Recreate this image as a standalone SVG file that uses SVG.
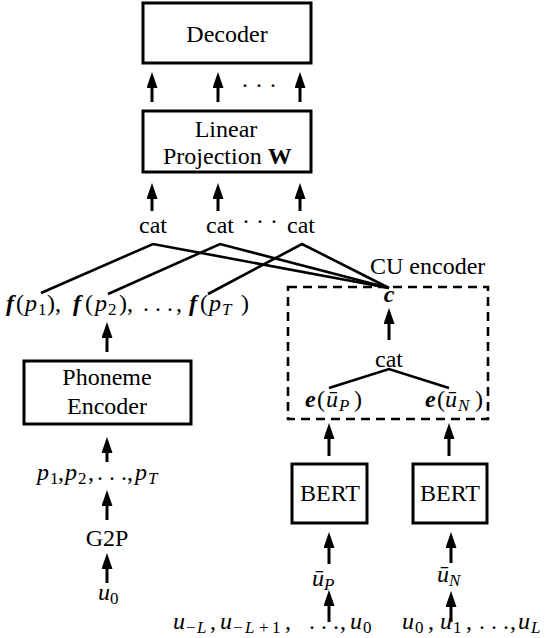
<svg xmlns="http://www.w3.org/2000/svg" width="548" height="638" viewBox="0 0 548 638" font-family="'Liberation Serif', 'Times New Roman', serif">
<defs>
<marker id="ah" markerUnits="userSpaceOnUse" markerWidth="16" markerHeight="11" viewBox="0 -5.5 16 11" refX="2" refY="0" orient="auto">
<path d="M0,-5.5 L16,0 L0,5.5 z" fill="#000"/>
</marker>
</defs>
<style>
text{font-family:'Liberation Serif','Times New Roman','DejaVu Serif',serif;font-size:24px;fill:#000}
.box{fill:#fff;stroke:#000;stroke-width:3}
.arr{stroke:#000;stroke-width:3;fill:none;marker-end:url(#ah)}
.ln{stroke:#000;stroke-width:2.6;fill:none}
.dash{fill:none;stroke:#000;stroke-width:2.6;stroke-dasharray:9 6}
.m{font-style:italic}
.b{font-style:italic;font-weight:bold}
.s{font-size:17px}
.su{font-size:17px;font-style:italic}
.mid{text-anchor:middle}
</style>
<rect width="548" height="638" fill="#fff"/>

<g id="decoder">
<rect class="box" x="143" y="3" width="168" height="60"/>
<text class="mid" x="227" y="42">Decoder</text>
</g>
<g id="linear-projection">
<rect class="box" x="143" y="111" width="168" height="61"/>
<text class="mid" x="226" y="137">Linear</text>
<text x="163" y="164">Projection <tspan font-weight="bold">W</tspan></text>
</g>
<g id="cat-labels">
<text class="mid" x="153" y="233">cat</text>
<text class="mid" x="220" y="233">cat</text>
<text class="mid" x="260" y="229">· · ·</text>
<text class="mid" x="301" y="233">cat</text>
<text class="mid" x="259" y="93">· · ·</text>
</g>
<g id="phoneme-features">
<text y="311"><tspan class="b" x="6">f</tspan><tspan x="16">(</tspan><tspan class="m" x="25">p</tspan><tspan class="s" x="38" y="315">1</tspan><tspan x="47" y="311">),</tspan><tspan class="b" x="73">f</tspan><tspan x="85">(</tspan><tspan class="m" x="95">p</tspan><tspan class="s" x="108" y="315">2</tspan><tspan x="119" y="311">),</tspan><tspan x="143">. . .</tspan><tspan x="176">,</tspan><tspan class="b" x="189">f</tspan><tspan x="200">(</tspan><tspan class="m" x="209">p</tspan><tspan class="su" x="222" y="315">T</tspan><tspan x="241" y="311">)</tspan></text>
</g>
<g id="cu-encoder">
<rect class="dash" x="288" y="287" width="200" height="132"/>
<text x="370" y="274">CU encoder</text>
<text class="b mid" x="389" y="302">c</text>
<text class="mid" x="389" y="367">cat</text>
<text y="407"><tspan class="b" x="305">e</tspan><tspan x="317">(</tspan><tspan class="m" x="326">ū</tspan><tspan class="su" x="339" y="411">P</tspan><tspan x="354" y="407">)</tspan></text>
<text y="407"><tspan class="b" x="425">e</tspan><tspan x="437">(</tspan><tspan class="m" x="445">ū</tspan><tspan class="su" x="458" y="411">N</tspan><tspan x="475" y="407">)</tspan></text>
</g>
<g id="phoneme-encoder">
<rect class="box" x="24" y="361" width="167" height="63"/>
<text class="mid" x="107" y="385">Phoneme</text>
<text class="mid" x="107" y="414">Encoder</text>
</g>
<g id="phonemes">
<text y="480"><tspan class="m" x="37">p</tspan><tspan class="s" x="50" y="484">1</tspan><tspan x="58" y="480">,</tspan><tspan class="m" x="65">p</tspan><tspan class="s" x="78" y="484">2</tspan><tspan x="88" y="480">,</tspan><tspan x="97">. . .</tspan><tspan x="127">,</tspan><tspan class="m" x="135">p</tspan><tspan class="su" x="148" y="484">T</tspan></text>
</g>
<g id="g2p">
<text class="mid" x="107" y="546">G2P</text>
</g>
<g id="u0">
<text y="600"><tspan class="m" x="98">u</tspan><tspan class="s" x="110" y="604">0</tspan></text>
</g>
<g id="bert-p">
<rect class="box" x="292" y="464" width="75" height="59"/>
<text class="mid" x="330" y="501">BERT</text>
</g>
<g id="bert-n">
<rect class="box" x="413" y="464" width="74" height="59"/>
<text class="mid" x="450" y="501">BERT</text>
</g>
<g id="u-bar-p">
<text y="586"><tspan class="m" x="312">ū</tspan><tspan class="su" x="324" y="590">P</tspan></text>
</g>
<g id="u-bar-n">
<text y="582"><tspan class="m" x="437">ū</tspan><tspan class="su" x="449" y="586">N</tspan></text>
</g>
<g id="past-utterances">
<text y="629"><tspan class="m" x="173">u</tspan><tspan class="s" x="186" y="633">−</tspan><tspan class="su" x="197" y="633">L</tspan><tspan x="210" y="629">,</tspan><tspan class="m" x="220">u</tspan><tspan class="s" x="233" y="633">−</tspan><tspan class="su" x="245" y="633">L</tspan><tspan class="s" x="259" y="633">+</tspan><tspan class="s" x="272" y="633">1</tspan><tspan x="285" y="629">,</tspan><tspan x="309">. . .</tspan><tspan x="340">,</tspan><tspan class="m" x="350">u</tspan><tspan class="s" x="363" y="633">0</tspan></text>
</g>
<g id="future-utterances">
<text y="629"><tspan class="m" x="402">u</tspan><tspan class="s" x="415" y="633">0</tspan><tspan x="428" y="629">,</tspan><tspan class="m" x="440">u</tspan><tspan class="s" x="453" y="633">1</tspan><tspan x="466" y="629">,</tspan><tspan x="479">. . .</tspan><tspan x="510">,</tspan><tspan class="m" x="518">u</tspan><tspan class="su" x="531" y="633">L</tspan></text>
</g>

<g id="connectors">
<line class="arr" x1="152" y1="102" x2="152" y2="86"/>
<line class="arr" x1="218" y1="102" x2="218" y2="86"/>
<line class="arr" x1="300" y1="102" x2="300" y2="86"/>
<line class="arr" x1="152" y1="211" x2="152" y2="197"/>
<line class="arr" x1="218" y1="211" x2="218" y2="197"/>
<line class="arr" x1="300" y1="211" x2="300" y2="197"/>
<polyline class="ln" points="41,293 153,244 389,288"/>
<polyline class="ln" points="108,294 220,244 389,288"/>
<polyline class="ln" points="208,294 302,244 389,288"/>
<line class="arr" x1="389" y1="340" x2="389" y2="322"/>
<polyline class="ln" points="329,388 389,369 449,388"/>
<line class="arr" x1="329" y1="456" x2="329" y2="437"/>
<line class="arr" x1="449" y1="456" x2="449" y2="437"/>
<line class="arr" x1="107" y1="352" x2="107" y2="336"/>
<line class="arr" x1="107" y1="462" x2="107" y2="451"/>
<line class="arr" x1="107" y1="520" x2="107" y2="504"/>
<line class="arr" x1="107" y1="583" x2="107" y2="567"/>
<line class="arr" x1="329" y1="564" x2="329" y2="546"/>
<line class="arr" x1="329" y1="622" x2="329" y2="604"/>
<line class="arr" x1="451" y1="563" x2="451" y2="546"/>
<line class="arr" x1="451" y1="622" x2="451" y2="605"/>
</g>
</svg>
